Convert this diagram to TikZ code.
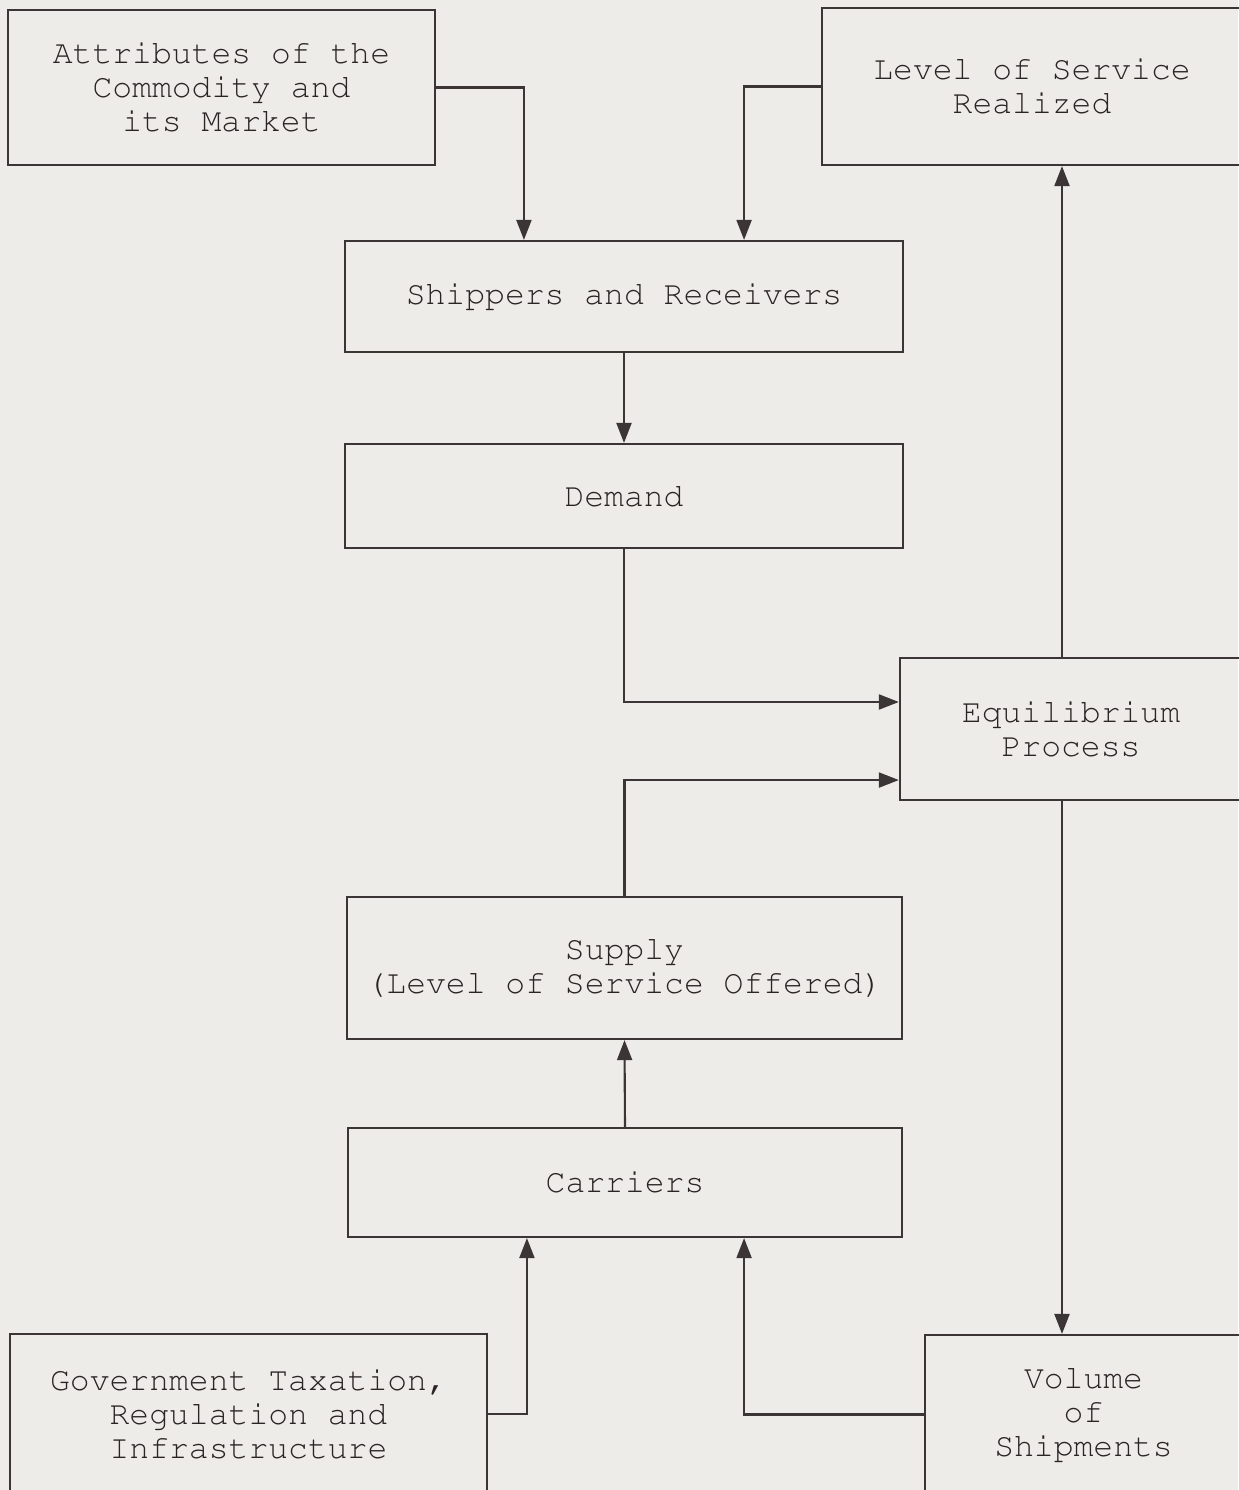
\documentclass[tikz,border=0pt]{standalone}
\usepackage[T1]{fontenc}
\usetikzlibrary{arrows.meta}
\definecolor{paper}{HTML}{EEECE8}
\definecolor{ink}{HTML}{3B3535}
\definecolor{typeink}{HTML}{2A2424}
\newcommand{\typewr}{\fontfamily{pcr}\selectfont}
\begin{document}
\begin{tikzpicture}[x=0.01cm,y=-0.01cm,
    blk/.style={draw=ink,line width=0.6pt,inner sep=0pt,align=center,text=typeink,
      font=\typewr\fontsize{9.4}{9.7}\selectfont},
    arr/.style={draw=ink,line width=0.6pt,-{Triangle[length=0.2cm,width=0.15cm]}}]
  \fill[paper] (0,0) rectangle (1238,1490);
  \useasboundingbox (0,0) rectangle (1238,1490);
  % boxes
  \node[blk,minimum width=4.27cm,minimum height=1.55cm] (attr) at (221.5,87.5) {Attributes of the\\Commodity and\\its Market};
  \node[blk,minimum width=4.20cm,minimum height=1.57cm] (level) at (1032,86.5) {Level of Service\\Realized};
  \node[blk,minimum width=5.58cm,minimum height=1.11cm] (ship) at (624,296.5) {Shippers and Receivers};
  \node[blk,minimum width=5.58cm,minimum height=1.04cm] (dem) at (624,496) {Demand};
  \node[blk,minimum width=3.42cm,minimum height=1.42cm] (eq) at (1071,729) {Equilibrium\\Process};
  \node[blk,minimum width=5.55cm,minimum height=1.42cm] (sup) at (624.5,968) {Supply\\(Level of Service Offered)};
  \node[blk,minimum width=5.54cm,minimum height=1.09cm] (car) at (625,1182.5) {Carriers};
  \node[blk,minimum width=4.77cm,minimum height=1.60cm] (gov) at (248.5,1414) {Government Taxation,\\Regulation and\\Infrastructure};
  \node[blk,minimum width=3.17cm,minimum height=1.59cm] (vol) at (1083.5,1414.5) {Volume\\of\\Shipments};
  % connectors
  \draw[arr] (attr.east) -| ([xshift=-1cm]ship.north);
  \draw[arr] (level.west) -| ([xshift=1.2cm]ship.north);
  \draw[arr] (ship.south) -- (dem.north);
  \draw[arr] (dem.south) |- ([yshift=0.27cm]eq.west);
  \draw[arr] (sup.north) |- ([yshift=-0.51cm]eq.west);
  \draw[arr] ([xshift=-0.09cm]eq.north) -- ([xshift=-0.09cm]eq.north |- level.south);
  \draw[arr] ([xshift=-0.09cm]eq.south) -- ([xshift=-0.09cm]eq.south |- vol.north);
  \draw[arr] (car.north) -- (sup.south);
  \draw[arr] (gov.east) -| ([xshift=-0.98cm]car.south);
  \draw[arr] (vol.west) -| ([xshift=1.19cm]car.south);
\end{tikzpicture}
\end{document}
